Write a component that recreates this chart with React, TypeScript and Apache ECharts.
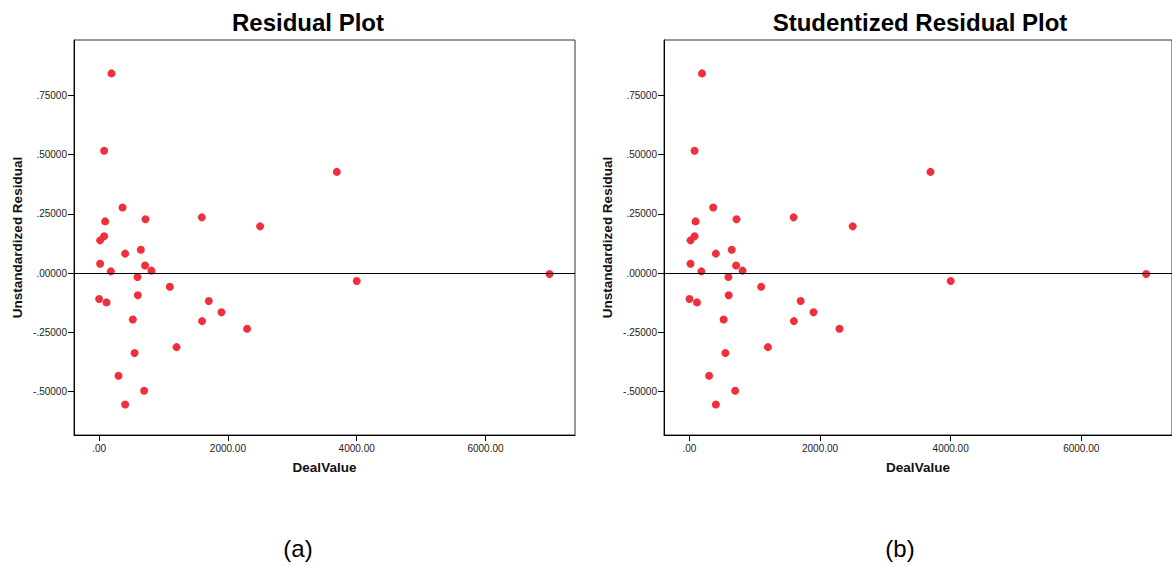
import React, { useEffect, useRef } from "react";
import * as echarts from "echarts";

// DealValue (x) and residual (y)
const dealValue = [
  192, 78, 363, 1595, 93, 720, 2500, 78, 16, 404, 648, 16, 714, 182, 813, 596,
  1098, 601, 0, 115, 1703, 1900, 523, 1599, 2298, 1202, 550, 301, 699, 404,
  4001, 6994, 3691,
];
const unstandardizedResidual = [
  0.843, 0.516, 0.277, 0.235, 0.218, 0.227, 0.197, 0.155, 0.138, 0.082, 0.098,
  0.039, 0.032, 0.007, 0.01, -0.017, -0.058, -0.094, -0.11, -0.124, -0.118,
  -0.166, -0.196, -0.203, -0.235, -0.313, -0.338, -0.434, -0.497, -0.555,
  -0.034, -0.004, 0.427,
];
// plot (b) shows the same points
const studentizedPlotResidual = [
  0.843, 0.516, 0.277, 0.235, 0.218, 0.227, 0.197, 0.155, 0.138, 0.082, 0.098,
  0.039, 0.032, 0.007, 0.01, -0.017, -0.058, -0.094, -0.11, -0.124, -0.118,
  -0.166, -0.196, -0.203, -0.235, -0.313, -0.338, -0.434, -0.497, -0.555,
  -0.034, -0.004, 0.427,
];

const xTicks = [0, 2000, 4000, 6000];
const yTicks = [-0.5, -0.25, 0, 0.25, 0.5, 0.75];
const titles = ["Residual Plot", "Studentized Residual Plot"];
const captions = ["(a)", "(b)"];
const xName = "DealValue";
const yName = "Unstandardized Residual";

const FONT = '"Liberation Sans", Arial, sans-serif';

const fmtY = (v: number) => v.toFixed(5).replace(/^(-?)0\./, "$1.");
const fmtX = (v: number) => v.toFixed(2).replace(/^(-?)0\./, "$1.");

export default function App() {
  const ref = useRef<HTMLDivElement>(null);
  useEffect(() => {
    if (!ref.current) return;
    const chart = echarts.init(ref.current, undefined, { renderer: "svg" });
    const grids = [
      { left: 74, top: 40, width: 501, height: 395 },
      { left: 664, top: 40, width: 512, height: 395 },
    ];
    const mkX = (i: number) => ({
      type: "value",
      gridIndex: i,
      min: -390,
      max: 7390,
      name: xName,
      nameLocation: "middle",
      nameGap: 25,
      nameTextStyle: { fontFamily: FONT, fontWeight: "bold", fontSize: 13.5, color: "#111" },
      splitLine: { show: false },
      axisLine: { show: true, onZero: false, lineStyle: { color: "#000", width: 1 } },
      axisTick: {
        show: true,
        length: 6,
        customValues: xTicks,
        lineStyle: { color: "#000" },
      },
      axisLabel: {
        customValues: xTicks,
        formatter: fmtX,
        fontFamily: FONT,
        fontSize: 10,
        color: "#222",
        margin: 8,
      },
    });
    const mkY = (i: number) => ({
      type: "value",
      gridIndex: i,
      min: -0.684,
      max: 0.984,
      name: yName,
      nameLocation: "middle",
      nameRotate: 90,
      nameGap: 50,
      nameTextStyle: { fontFamily: FONT, fontWeight: "bold", fontSize: 13.5, color: "#111" },
      splitLine: { show: false },
      axisLine: { show: true, onZero: false, lineStyle: { color: "#000", width: 1 } },
      axisTick: {
        show: true,
        length: 6,
        customValues: yTicks,
        lineStyle: { color: "#000" },
      },
      axisLabel: {
        customValues: yTicks,
        formatter: fmtY,
        fontFamily: FONT,
        fontSize: 10,
        color: "#222",
        margin: 7,
      },
    });
    const mkSeries = (i: number, ys: number[]) => ({
      type: "scatter",
      xAxisIndex: i,
      yAxisIndex: i,
      symbol: "circle",
      symbolSize: 8,
      itemStyle: { color: "#EF2F3C", opacity: 1 },
      data: dealValue.map((x, k) => [x, ys[k]]),
      markLine: {
        silent: true,
        symbol: "none",
        label: { show: false },
        lineStyle: { color: "#000", width: 1, type: "solid" },
        data: [{ yAxis: 0 }],
      },
    });
    const txt = (x: number, y: number, text: string, font: string) => ({
      type: "text",
      x,
      y,
      style: { text, font, textAlign: "center", textVerticalAlign: "middle", fill: "#000" },
    });
    chart.setOption({
      animation: false,
      backgroundColor: "#fff",
      grid: grids.map((g) => ({
        ...g,
        show: true,
        borderColor: "#333",
        borderWidth: 1,
        backgroundColor: "transparent",
      })),
      xAxis: [mkX(0), mkX(1)],
      yAxis: [mkY(0), mkY(1)],
      series: [
        mkSeries(0, unstandardizedResidual),
        mkSeries(1, studentizedPlotResidual),
      ],
      graphic: [
        txt(308, 22, titles[0], `bold 24px ${FONT}`),
        txt(920, 22, titles[1], `bold 24px ${FONT}`),
        txt(298, 548, captions[0], `24px ${FONT}`),
        txt(900, 548, captions[1], `24px ${FONT}`),
      ],
    });
    return () => chart.dispose();
  }, []);
  return (
    <div
      ref={ref}
      style={{ position: "absolute", left: 0, top: 0, width: 1172, height: 566, overflow: "hidden" }}
    />
  );
}
